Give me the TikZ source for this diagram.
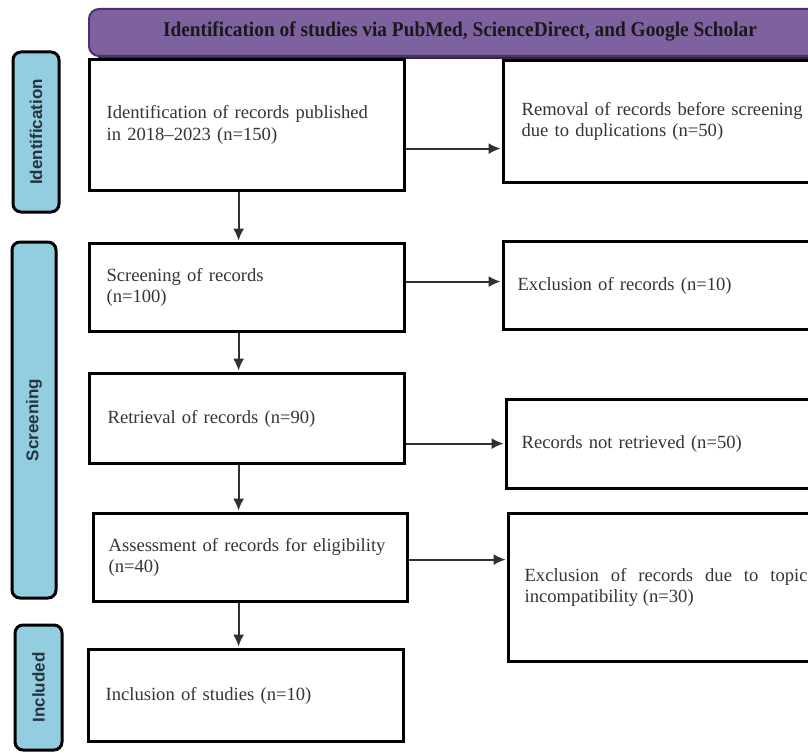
\documentclass[tikz,border=0pt]{standalone}
\usepackage{fontspec}
\setmainfont{Liberation Serif}
\newfontfamily\labelfont{Liberation Sans}
\usepackage{graphicx}
\usetikzlibrary{arrows.meta,calc}
\definecolor{bannerfill}{HTML}{7E62A0}
\definecolor{bannerdraw}{HTML}{4A3466}
\definecolor{phasefill}{HTML}{92CDE0}
\definecolor{phasetext}{HTML}{26333D}
\definecolor{bodytext}{HTML}{353535}
\definecolor{arrowcol}{HTML}{303030}
\begin{document}
\begin{tikzpicture}[x=1pt,y=-1pt,
  box/.style={draw=black, line width=3.2pt, fill=white, anchor=north west, align=left,
    text=bodytext, font=\fontsize{18.6}{21.5}\selectfont, inner ysep=4pt},
  phase/.style={draw=black, line width=3pt, fill=phasefill, rounded corners=8pt,
    inner sep=0pt, rotate=90, text=phasetext, font=\labelfont\bfseries\fontsize{17}{17}\selectfont},
  banner/.style={draw=bannerdraw, line width=2pt, fill=bannerfill, rounded corners=10pt,
    anchor=north west, inner sep=0pt},
  bantext/.style={text=black!90, font=\bfseries\fontsize{21}{21}\selectfont, inner sep=0pt},
  arr/.style={draw=arrowcol, line width=1.8pt, shorten >=1.4pt, -{Latex[length=12pt,width=11pt]}}]
\useasboundingbox (0,0) rectangle (808,752);
\clip (0,0) rectangle (808,752);
\fill[white] (0,0) rectangle (808,752);

% banner
\node[banner, minimum width=740, minimum height=47] (ban) at (88,8) {};
\draw[bannerdraw!70!black, line width=2pt] ([xshift=10pt,yshift=-1pt]ban.south west) -- ([yshift=-1pt]ban.south east);
\node[bantext] (bt) at (460,31.5) {\resizebox{594pt}{\height}{Identification of studies via PubMed, ScienceDirect, and Google Scholar}};

% phase labels
\node[phase, minimum width=160, minimum height=46] (pid) at (36,132) {Identification};
\node[phase, minimum width=356, minimum height=44] (psc) at (34,420) {Screening};
\node[phase, minimum width=125, minimum height=47] (pin) at (38.5,687.5) {Included};

% left boxes
\node[box, inner xsep=17pt, text width=281pt, minimum height=131pt] (b1) at (88,58)
  {Identification of records published\\in 2018--2023 (n=150)};
\node[box, inner xsep=17pt, text width=281pt, minimum height=88pt] (b2) at (88,242)
  {Screening of records\\(n=100)};
\node[box, inner xsep=18pt, text width=279pt, minimum height=90pt] (b3) at (88,372)
  {Retrieval of records (n=90)};
\node[box, inner xsep=15pt, text width=284pt, minimum height=88pt] (b4) at (92,512)
  {Assessment of records for eligibility\\(n=40)};
\node[box, inner xsep=17pt, text width=281pt, minimum height=92pt] (b5) at (87,648)
  {Inclusion of studies (n=10)};

% right boxes
\node[box, inner xsep=18pt, text width=294pt, minimum height=122pt] (r1) at (502,59)
  {Removal of records before screening\\due to duplications (n=50)};
\node[box, inner xsep=14pt, text width=300pt, minimum height=88pt] (r2) at (502,240)
  {Exclusion of records (n=10)};
\node[box, inner xsep=15pt, text width=300pt, minimum height=89pt] (r3) at (505,398)
  {Records not retrieved (n=50)};
\node[box, inner xsep=16pt, text width=283pt, minimum height=148pt, align=justify] (r4) at (507,512)
  {Exclusion of records due to topic\linebreak incompatibility (n=30)};

% horizontal arrows
\draw[arr] ([yshift=-23.5pt]b1.east) -- ([yshift=-23.5pt]b1.east -| r1.west);
\draw[arr] ([yshift=6pt]b2.east) -- ([yshift=6pt]b2.east -| r2.west);
\draw[arr] ([yshift=-25pt]b3.east) -- ([yshift=-25pt]b3.east -| r3.west);
\draw[arr] ([yshift=-2pt]b4.east) -- ([yshift=-2pt]b4.east -| r4.west);

% vertical arrows
\draw[arr] ([xshift=-8.5pt]b1.south) -- ([xshift=-8.5pt]b1.south |- b2.north);
\draw[arr] ([xshift=-8.5pt]b2.south) -- ([xshift=-8.5pt]b2.south |- b3.north);
\draw[arr] ([xshift=-8.5pt]b3.south) -- ([xshift=-8.5pt]b3.south |- b4.north);
\draw[arr] ([xshift=-12pt]b4.south) -- ([xshift=-12pt]b4.south |- b5.north);
\end{tikzpicture}
\end{document}
